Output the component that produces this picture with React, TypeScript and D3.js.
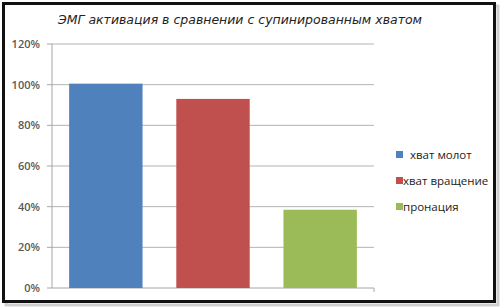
import React from "react";
import * as d3 from "d3";

const title = "ЭМГ активация в сравнении с супинированным хватом";
const categories = ["хват молот", "хват вращение", "пронация"];
const values = [100.5, 93, 38.5];
const colors = ["#4F81BD", "#C0504D", "#9BBB59"];
const yTicks = [0, 20, 40, 60, 80, 100, 120];

export default function App() {
  const W = 500, H = 307;
  const x0 = 52, x1 = 374, yTop = 44, yBot = 288;
  const x = d3.scaleBand<string>().domain(categories).range([x0, x1]).paddingInner(0.315).paddingOuter(0.16);
  const y = d3.scaleLinear().domain([0, 120]).range([yBot, yTop]);
  return (
    <svg width={W} height={H} style={{ position: "absolute", left: 0, top: 0 }}>
      <rect x={0} y={0} width={W} height={H} fill="#fff" />
      <rect x={6} y={6} width={492} height={299} fill="none" stroke="#cfcfcf" strokeWidth={3} />
      <rect x={3.5} y={3.5} width={491} height={298} fill="#fff" stroke="#111" strokeWidth={3} />
      <text x={240} y={24} textAnchor="middle" textLength={364} lengthAdjust="spacingAndGlyphs" fontFamily="'DejaVu Sans', sans-serif" fontStyle="italic" fontSize={13} fill="#222">
        {title}
      </text>
      {yTicks.map((t) => (
        <g key={t}>
          {t > 0 && <line x1={x0} x2={x1} y1={y(t)} y2={y(t)} stroke="#b3b3b3" strokeWidth={1} />}
          <line x1={x0 - 5} x2={x0} y1={y(t)} y2={y(t)} stroke="#a6a6a6" />
          <text x={40} y={y(t)} dy="0.35em" textAnchor="end" fontFamily="'Open Sans', sans-serif" fontWeight={600} fontSize={11} fill="#595959">
            {t}%
          </text>
        </g>
      ))}
      <line x1={x0} x2={x0} y1={yTop} y2={yBot} stroke="#a6a6a6" />
      <line x1={x0} x2={x1} y1={yBot} y2={yBot} stroke="#a6a6a6" />
      <line x1={x1} x2={x1} y1={yBot} y2={yBot + 4} stroke="#a6a6a6" />
      {categories.map((c, i) => (
        <rect key={c} x={x(c)} y={y(values[i])} width={x.bandwidth()} height={yBot - y(values[i])} fill={colors[i]} />
      ))}
      {categories.map((c, i) => (
        <g key={"l" + c} transform={`translate(0, ${155 + i * 26})`}>
          <rect x={396} y={-4} width={7} height={7} fill={colors[i]} />
          <text x={i === 0 ? 410 : 403} y={0} dy="0.35em" fontFamily="'Open Sans', sans-serif" fontSize={11.5} fill="#222">
            {c}
          </text>
        </g>
      ))}
    </svg>
  );
}
